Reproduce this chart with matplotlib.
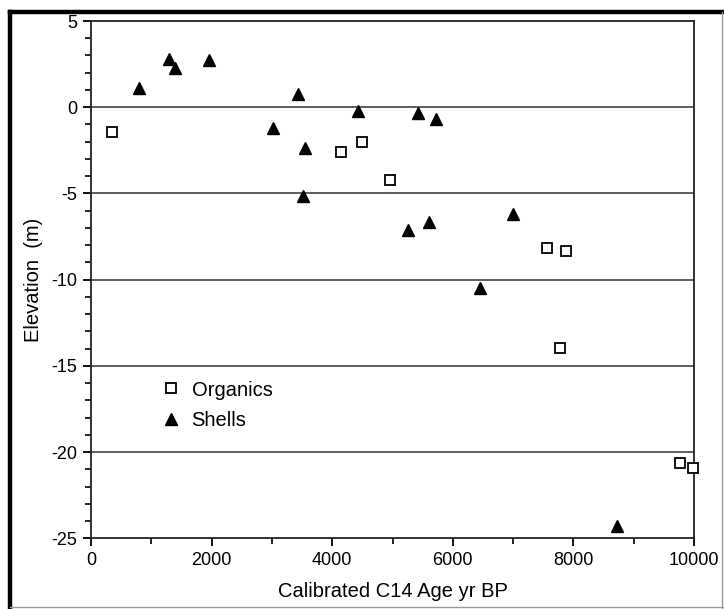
import matplotlib.pyplot as plt
from matplotlib.lines import Line2D
from matplotlib.ticker import MultipleLocator

plt.rcParams['font.family'] = ['Liberation Sans', 'DejaVu Sans']
plt.rcParams['axes.unicode_minus'] = False

# calibrated age (yr BP) and elevation (m)
org_age = [350, 4140, 4500, 4960, 7560, 7870, 7770, 9770, 9990]
org_elev = [-1.43, -2.59, -2.01, -4.24, -8.19, -8.34, -13.94, -20.65, -20.9]

shell_age = [790, 1300, 1400, 1960, 3020, 3440, 3550, 3510, 4420, 5430, 5720,
             5260, 5600, 6990, 6450, 8720]
shell_elev = [1.13, 2.77, 2.29, 2.73, -1.2, 0.74, -2.36, -5.17, -0.23, -0.33, -0.71,
              -7.1, -6.68, -6.17, -10.49, -24.3]

fig = plt.figure(figsize=(7.24, 6.09), dpi=100)
ax = fig.add_axes([0.1257, 0.1161, 0.8329, 0.8494])

for y in [0, -5, -10, -15, -20]:
    ax.axhline(y, color='#333333', lw=1.1, zorder=1)

ax.plot(org_age, org_elev, 's', ms=6.5, mfc='white', mec='black', mew=1.3,
        ls='none', label='Organics', zorder=3, clip_on=False)
ax.plot(shell_age, shell_elev, '^', ms=8.5, color='black',
        ls='none', label='Shells', zorder=3, clip_on=False)

ax.set_xlim(0, 10000)
ax.set_ylim(-25, 5)
ax.set_xticks([0, 2000, 4000, 6000, 8000, 10000])
ax.set_yticks([5, 0, -5, -10, -15, -20, -25])
ax.xaxis.set_minor_locator(MultipleLocator(1000))
ax.yaxis.set_minor_locator(MultipleLocator(1))
ax.tick_params(which='major', direction='out', length=6, width=1.3,
               labelsize=13, pad=4)
ax.tick_params(which='minor', direction='out', length=4, width=1.2)
ax.tick_params(top=False, right=False, which='both')
for s in ax.spines.values():
    s.set_linewidth(1.3)
    s.set_color('#222222')

ax.set_xlabel('Calibrated C14 Age yr BP', fontsize=14.5, labelpad=9)
ax.set_ylabel('Elevation  (m)', fontsize=14.5, labelpad=6)

ax.legend(loc='upper left', bbox_to_anchor=(0.07, 0.34), frameon=False,
          fontsize=14.5, handletextpad=0.0, labelspacing=0.55, numpoints=1)

# picture frame around the figure
fig.add_artist(Line2D([0.0145, 1.0], [0.981, 0.981], color='black', lw=3.2,
                      transform=fig.transFigure))
fig.add_artist(Line2D([0.0145, 0.0145], [0.0, 0.981], color='black', lw=3.2,
                      transform=fig.transFigure))
fig.add_artist(Line2D([0.997, 0.997], [0.0, 0.981], color='#999999', lw=1,
                      transform=fig.transFigure))
fig.add_artist(Line2D([0.0145, 1.0], [0.003, 0.003], color='#999999', lw=1,
                      transform=fig.transFigure))

fig.savefig('out.png', dpi=100)
